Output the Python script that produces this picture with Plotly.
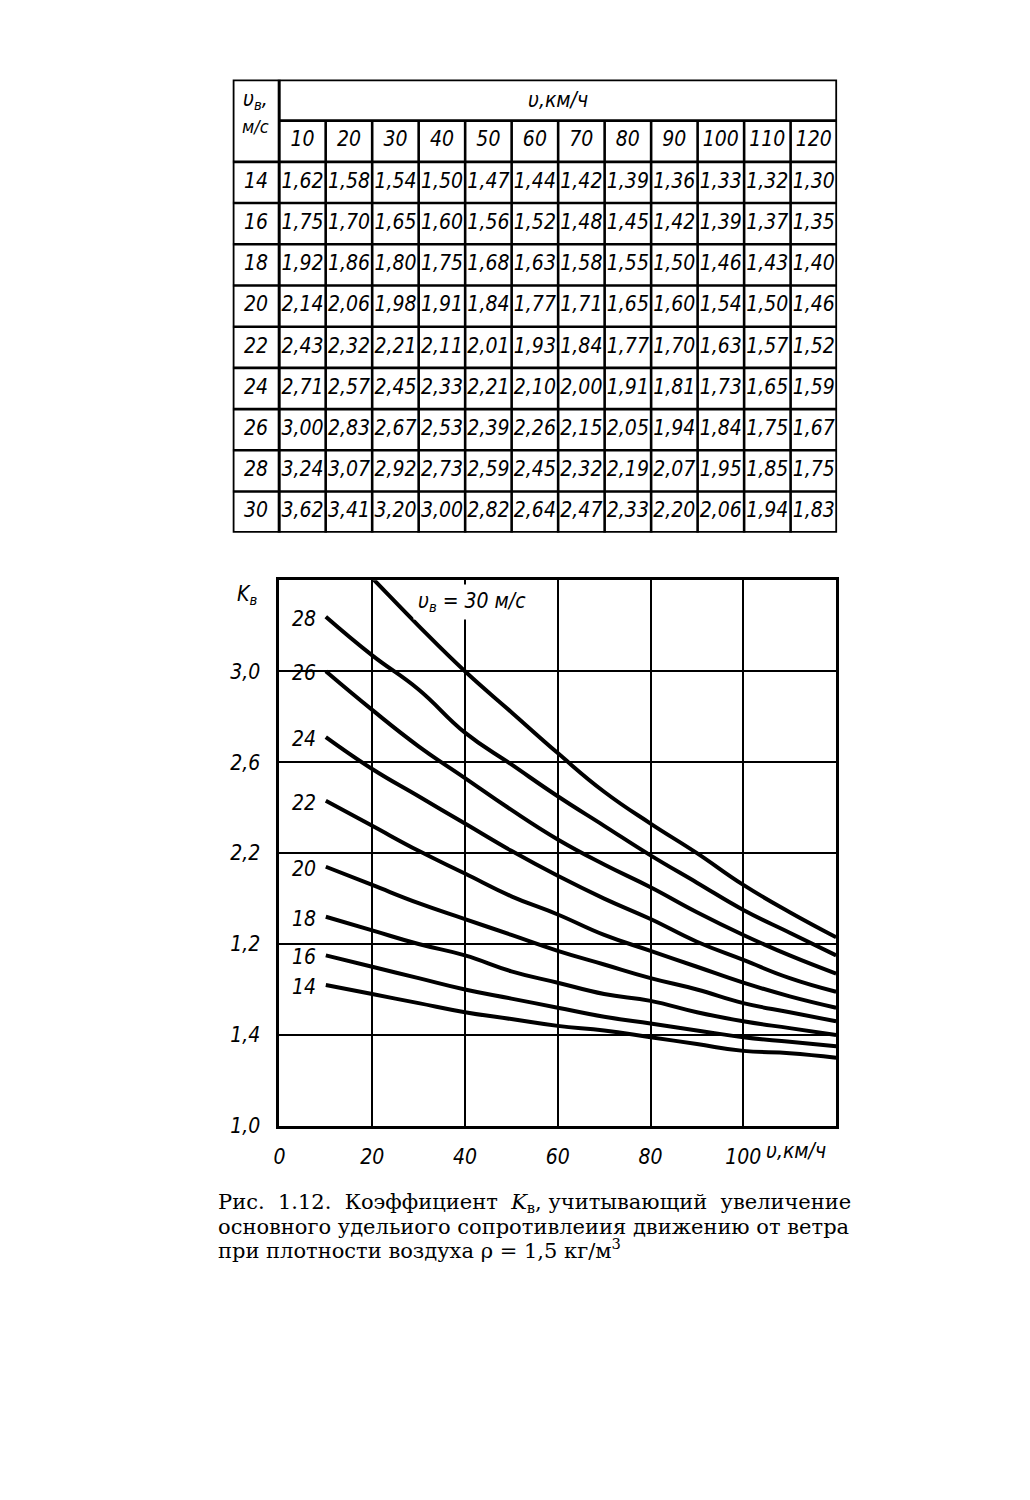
import plotly.graph_objects as go

# ---------------- data ----------------
speeds = [10, 20, 30, 40, 50, 60, 70, 80, 90, 100, 110, 120]
wind = [14, 16, 18, 20, 22, 24, 26, 28, 30]
k14 = [1.62, 1.58, 1.54, 1.50, 1.47, 1.44, 1.42, 1.39, 1.36, 1.33, 1.32, 1.30]
k16 = [1.75, 1.70, 1.65, 1.60, 1.56, 1.52, 1.48, 1.45, 1.42, 1.39, 1.37, 1.35]
k18 = [1.92, 1.86, 1.80, 1.75, 1.68, 1.63, 1.58, 1.55, 1.50, 1.46, 1.43, 1.40]
k20 = [2.14, 2.06, 1.98, 1.91, 1.84, 1.77, 1.71, 1.65, 1.60, 1.54, 1.50, 1.46]
k22 = [2.43, 2.32, 2.21, 2.11, 2.01, 1.93, 1.84, 1.77, 1.70, 1.63, 1.57, 1.52]
k24 = [2.71, 2.57, 2.45, 2.33, 2.21, 2.10, 2.00, 1.91, 1.81, 1.73, 1.65, 1.59]
k26 = [3.00, 2.83, 2.67, 2.53, 2.39, 2.26, 2.15, 2.05, 1.94, 1.84, 1.75, 1.67]
k28 = [3.24, 3.07, 2.92, 2.73, 2.59, 2.45, 2.32, 2.19, 2.07, 1.95, 1.85, 1.75]
k30 = [3.62, 3.41, 3.20, 3.00, 2.82, 2.64, 2.47, 2.33, 2.20, 2.06, 1.94, 1.83]
rows = [k14, k16, k18, k20, k22, k24, k26, k28, k30]

y_tickvals = [1.0, 1.4, 1.8, 2.2, 2.6, 3.0]
y_ticktext = ["1,0", "1,4", "1,2", "2,2", "2,6", "3,0"]
x_tickvals = [0, 20, 40, 60, 80, 100]
x_ticktext = ["0", "20", "40", "60", "80", "100"]

NB = "\u00a0"
caption_line1 = ("Рис." + NB * 2 + "1.12." + NB * 2 + "Коэффициент" + NB * 2 +
                 "<i>K</i><sub>в</sub>," + NB + "учитывающий" + NB * 2 + "увеличение")
caption_line2 = "основного удельиого сопротивлеиия движению от ветра"
caption_line3 = "при плотности воздуха ρ = 1,5 кг/м<sup>3</sup>"

# ---------------- styling ----------------
PAGE_W, PAGE_H = 1030, 1500
OFF = 8  # default page body margin
W, H = PAGE_W - 2 * OFF, PAGE_H - 2 * OFF
TF = "DejaVu Sans Condensed, Liberation Sans Narrow, DejaVu Sans, sans-serif"
SERIF = "DejaVu Serif, Liberation Serif, serif"


def px_x(p):
    return (p - OFF) / W


def px_y(p):
    return 1 - (p - OFF) / H


def fmt(v):
    return f"{v:.2f}".replace(".", ",")


fig = go.Figure()

# ---------------- chart ----------------
for w, vals in zip(wind, rows):
    fig.add_trace(go.Scatter(
        x=speeds, y=vals, mode="lines",
        line=dict(color="black", width=4, shape="spline", smoothing=1.3),
        xaxis="x", yaxis="y", hoverinfo="skip", showlegend=False))

annotations = []
for w, vals in zip(wind, rows):
    if w == 30:
        continue
    annotations.append(dict(
        x=speeds[0], y=vals[0], xref="x", yref="y", text=str(w),
        xanchor="right", yanchor="middle", xshift=-8, yshift=-2, showarrow=False,
        font=dict(family=TF, size=21, color="black", style="italic")))

annotations.append(dict(
    x=41.5, y=3.305, xref="x", yref="y", text="υ<sub>в</sub> = 30 м/с",
    xanchor="center", yanchor="middle", showarrow=False, bgcolor="white",
    borderpad=4,
    font=dict(family=TF, size=21, color="black", style="italic")))

annotations.append(dict(
    x=px_x(242), y=px_y(600), xref="paper", yref="paper", text="<i>K</i><sub>в</sub>",
    xanchor="center", yanchor="middle", showarrow=False,
    font=dict(family=TF, size=21, color="black", style="italic")))

annotations.append(dict(
    x=px_x(762), y=px_y(1160), xref="paper", yref="paper", text="υ,км/ч",
    xanchor="left", yanchor="middle", showarrow=False,
    font=dict(family=TF, size=21, color="black", style="italic")))

# ---------------- table ----------------
NC = len(speeds) + 1
NR = len(wind) + 2
tx, ty, tt = [], [], []
for j, s in enumerate(speeds):
    tx.append(j + 1.5)
    ty.append(1.5)
    tt.append(str(s))
for i, (w, vals) in enumerate(zip(wind, rows)):
    tx.append(0.5)
    ty.append(i + 2.5)
    tt.append(str(w))
    for j, v in enumerate(vals):
        tx.append(j + 1.5)
        ty.append(i + 2.5)
        tt.append(fmt(v))
fig.add_trace(go.Scatter(
    x=tx, y=ty, text=tt, mode="text", xaxis="x2", yaxis="y2",
    textfont=dict(family=TF, size=21, color="black", style="italic"),
    hoverinfo="skip", showlegend=False))

annotations.append(dict(
    x=NC / 2 + 0.5, y=0.5, xref="x2", yref="y2", text="υ,км/ч",
    showarrow=False, font=dict(family=TF, size=21, color="black", style="italic")))
annotations.append(dict(
    x=0.5, y=0.5, xref="x2", yref="y2", text="υ<sub>в</sub>,",
    showarrow=False, font=dict(family=TF, size=21, color="black", style="italic")))
annotations.append(dict(
    x=0.5, y=1.15, xref="x2", yref="y2", text="м/с",
    showarrow=False, font=dict(family=TF, size=18, color="black", style="italic")))

shapes = []
line_in = dict(color="black", width=2.6)
shapes.append(dict(type="rect", xref="x2", yref="y2", x0=0, x1=NC, y0=0, y1=NR,
                   line=dict(color="black", width=3.6)))
shapes.append(dict(type="line", xref="x2", yref="y2", x0=1, x1=1, y0=0, y1=NR,
                   line=dict(color="black", width=3)))
for j in range(2, NC):
    shapes.append(dict(type="line", xref="x2", yref="y2", x0=j, x1=j, y0=1, y1=NR, line=line_in))
shapes.append(dict(type="line", xref="x2", yref="y2", x0=1, x1=NC, y0=1, y1=1, line=line_in))
for i in range(2, NR):
    shapes.append(dict(type="line", xref="x2", yref="y2", x0=0, x1=NC, y0=i, y1=i, line=line_in))

# ---------------- caption ----------------
cap_font = dict(family=SERIF, size=21, color="black")
for text, ypx in ((caption_line1, 1213), (caption_line2, 1237), (caption_line3, 1259)):
    annotations.append(dict(x=px_x(211), y=px_y(ypx), xref="paper", yref="paper",
                            text=text, xanchor="left", yanchor="middle",
                            showarrow=False, font=cap_font))

tick_font = dict(family=TF, size=21, color="black", style="italic")

fig.update_layout(
    width=W, height=H, margin=dict(l=0, r=0, t=0, b=0),
    paper_bgcolor="white", plot_bgcolor="white", showlegend=False,
    xaxis=dict(domain=[px_x(275), px_x(835)], range=[0, 120], tickvals=x_tickvals,
               ticktext=x_ticktext, showgrid=True, gridcolor="black", gridwidth=1.8,
               showline=True, linecolor="black", linewidth=3, mirror=True,
               ticks="", ticklabelstandoff=10, tickfont=tick_font, zeroline=False,
               anchor="y", fixedrange=True),
    yaxis=dict(domain=[px_y(1135), px_y(585)], range=[1.0, 3.4], tickvals=y_tickvals,
               ticktext=y_ticktext, showgrid=True, gridcolor="black", gridwidth=1.8,
               showline=True, linecolor="black", linewidth=3, mirror=True,
               ticks="", ticklabelstandoff=12, tickfont=tick_font, zeroline=False,
               anchor="x", fixedrange=True),
    xaxis2=dict(domain=[px_x(228), px_x(836)], range=[0, NC], visible=False,
                anchor="y2", fixedrange=True),
    yaxis2=dict(domain=[px_y(537), px_y(80)], range=[NR, 0], visible=False,
                anchor="x2", fixedrange=True),
    annotations=annotations, shapes=shapes,
)

fig.write_html("out.html")
